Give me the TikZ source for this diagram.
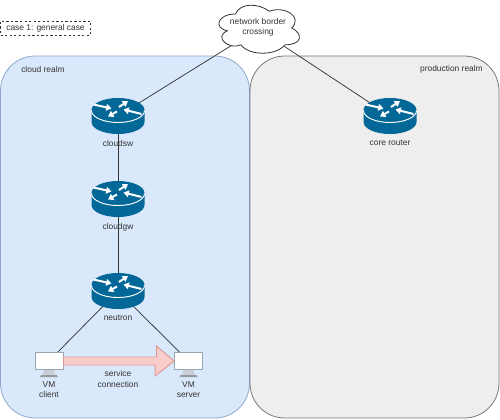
\documentclass[tikz,border=0pt]{standalone}
\usepackage{fontspec}
\setmainfont{Liberation Sans}
\usetikzlibrary{calc,arrows.meta}
\definecolor{rtr}{HTML}{036897}
\definecolor{txt}{HTML}{333333}
\definecolor{ln}{HTML}{333333}
\definecolor{scr}{HTML}{9AA6B2}
\definecolor{stand}{HTML}{C8CED4}
\definecolor{cloudfill}{HTML}{DAE8FC}
\definecolor{cloudline}{HTML}{8FA8CC}
\definecolor{prodfill}{HTML}{EEEEEE}
\definecolor{prodline}{HTML}{777777}
\tikzset{
  lbl/.style={font=\fontsize{6.3}{7.6}\selectfont,text=txt,align=center,inner sep=0pt},
  link/.style={draw=ln,line width=0.55pt},
  realm/.style={line width=0.6pt,rounded corners=26pt},
  anchorbox/.style={draw=none,fill=none,inner sep=0pt,minimum width=#1},
  screenbox/.style={draw=scr,fill=white,line width=0.7pt,inner sep=0pt,minimum width=21pt,minimum height=13pt},
  rarrow/.style={draw=white,line width=1.5pt,-{Triangle[width=5pt,length=4pt]}}
}
\newcommand{\routerglyph}[1]{%
  \begin{scope}[shift={(#1)}]
    \fill[rtr] (-26.5,-6) arc[start angle=180,end angle=360,x radius=26.5,y radius=12]
      -- (26.5,6) arc[start angle=0,end angle=180,x radius=26.5,y radius=12] -- cycle;
    \draw[white,line width=0.7pt] (-26.5,-5.5) arc[start angle=180,end angle=0,x radius=26.5,y radius=12];
    \draw[rarrow] (-24.5,-11.5) -- (-6.5,-7.5);
    \draw[rarrow] (1,-9) -- (10,-15);
    \draw[rarrow] (23.5,-2) -- (5.5,-6.5);
    \draw[rarrow] (-1,-4.5) -- (-10,0.5);
  \end{scope}}
\newcommand{\vmglyph}[1]{%
  \begin{scope}[shift={(#1)}]
    \fill[stand] (-5,8) -- (5,8) -- (6,14) -- (-6,14) -- cycle;
    \fill[stand!75!black] (-8,14) -- (8,14) -- (9,16) -- (-9,16) -- cycle;
  \end{scope}}
\begin{document}
\begin{tikzpicture}[x=0.75pt,y=-0.75pt]
\useasboundingbox (0,0) rectangle (500,419);
% realms
\draw[realm,draw=cloudline,fill=cloudfill] (0.5,56) rectangle (249.5,418);
\draw[realm,draw=prodline,fill=prodfill] (250,56) rectangle (499,418);
% anchor nodes
\node[anchorbox=57pt,minimum height=36pt] (border) at (258,29) {};
\node[anchorbox=40pt,minimum height=27pt] (cloudsw) at (118,116) {};
\node[anchorbox=40pt,minimum height=27pt] (cloudgw) at (118,199) {};
\node[anchorbox=40pt,minimum height=27pt] (neutron) at (118,291) {};
\node[anchorbox=40pt,minimum height=27pt] (core) at (390,116) {};
\node[screenbox,draw=none,fill=none] (client) at (49,361) {};
\node[screenbox,draw=none,fill=none] (server) at (188.5,361) {};
% connectors
\draw[link] (border.center) -- (cloudsw.center);
\draw[link] (border.center) -- (core.center);
\draw[link] (cloudsw.center) -- (cloudgw.center);
\draw[link] (cloudgw.center) -- (neutron.center);
\draw[link] (neutron.center) -- (client.center);
\draw[link] (neutron.center) -- (server.center);
% cloud
\begin{scope}[shift={(213,0)},x=0.675pt,y=-0.42pt]
\draw[draw=ln,fill=white,line width=0.6pt]
 (25,25) .. controls (5,25) and (0,50) .. (16,55)
 .. controls (0,66) and (18,90) .. (31,80)
 .. controls (40,100) and (70,100) .. (80,80)
 .. controls (100,80) and (100,60) .. (87.5,50)
 .. controls (100,30) and (80,10) .. (62.5,20)
 .. controls (50,5) and (30,5) .. (25,25) -- cycle;
\end{scope}
% routers
\routerglyph{118,116}
\routerglyph{118,199}
\routerglyph{118,291}
\routerglyph{390,116}
% VMs
\vmglyph{49,361}
\vmglyph{188.5,361}
\node[screenbox] (clientscreen) at (49,361) {};
\node[screenbox] (serverscreen) at (188.5,361) {};
% service arrow
\draw[draw={rgb,255:red,226;green,150;blue,146},fill={rgb,255:red,248;green,206;blue,204},line width=0.7pt]
  ($(clientscreen.east)+(0,-4)$) -- ++(93,0) -- ++(0,-11) -- (serverscreen.west) -- ++(-19,15) -- ++(0,-11) -- ($(clientscreen.east)+(0,4)$) -- cycle;
% labels
\node[lbl] (t1) at (258,27) {network border\\crossing};
\node[lbl] (t2) at (118,143) {cloudsw};
\node[lbl] (t3) at (118,227) {cloudgw};
\node[lbl] (t4) at (118,317.5) {neutron};
\node[lbl] (t5) at (390,143) {core router};
\node[lbl] (t6) at (49,390) {VM\\client};
\node[lbl] (t7) at (188.5,390) {VM\\server};
\node[lbl] (t8) at (118,379) {service\\connection};
\node[lbl,anchor=west] (t9) at (21,69) {cloud realm};
\node[lbl,anchor=east] (t10) at (483,69) {production realm};
\node[lbl,draw=ln,line width=0.5pt,dash pattern=on 1.7pt off 1.7pt,minimum width=67.5pt,minimum height=10.5pt] (case) at (45.5,28) {case 1: general case};
\end{tikzpicture}
\end{document}
